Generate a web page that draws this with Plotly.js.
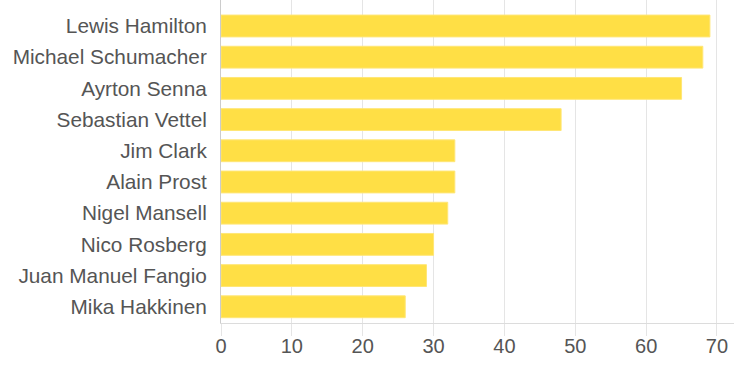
<!DOCTYPE html>
<html>
<head>
<meta charset="utf-8">
<script src="https://cdn.plot.ly/plotly-3.0.1.min.js"></script>
<style>html,body{margin:0;padding:0;background:#fff}#chart{width:734px;height:367px}</style>
</head>
<body>
<div id="chart"></div>
<script>
const drivers = ["Lewis Hamilton","Michael Schumacher","Ayrton Senna","Sebastian Vettel","Jim Clark","Alain Prost","Nigel Mansell","Nico Rosberg","Juan Manuel Fangio","Mika Hakkinen"];
const poles = [69, 68, 65, 48, 33, 33, 32, 30, 29, 26];
const xTicks = [0, 10, 20, 30, 40, 50, 60, 70];

const trace = {
  type: 'bar',
  orientation: 'h',
  y: drivers,
  x: poles,
  width: 0.7,
  marker: {color: '#FFDF45', line: {color: '#FFE676', width: 1}},
  hoverinfo: 'x+y'
};

const layout = {
  width: 734, height: 367,
  margin: {l: 220.5, r: 0, t: 0, b: 44, pad: 0},
  paper_bgcolor: '#fff', plot_bgcolor: '#fff',
  font: {family: '"Liberation Sans", Arial, sans-serif', size: 20.8, color: '#555'},
  showlegend: false,
  xaxis: {
    range: [0, 72.4],
    tickvals: xTicks,
    ticktext: xTicks.map(String),
    tickfont: {size: 20},
    showgrid: true, gridcolor: '#e5e5e5', gridwidth: 1,
    zeroline: false,
    showline: true, linecolor: '#dcdcdc', linewidth: 1,
    ticks: 'outside', ticklen: 12, tickcolor: '#e5e5e5', tickwidth: 1,
    ticklabelstandoff: -7,
    fixedrange: true
  },
  yaxis: {
    type: 'category',
    categoryorder: 'array', categoryarray: drivers,
    range: [9.52, -0.833],
    showgrid: false, zeroline: false,
    showline: true, linecolor: '#cccccc', linewidth: 1,
    ticks: 'outside', ticklen: 9, tickcolor: 'rgba(0,0,0,0)',
    fixedrange: true
  }
};

Plotly.newPlot('chart', [trace], layout, {displayModeBar: false, staticPlot: true});
</script>
</body>
</html>
